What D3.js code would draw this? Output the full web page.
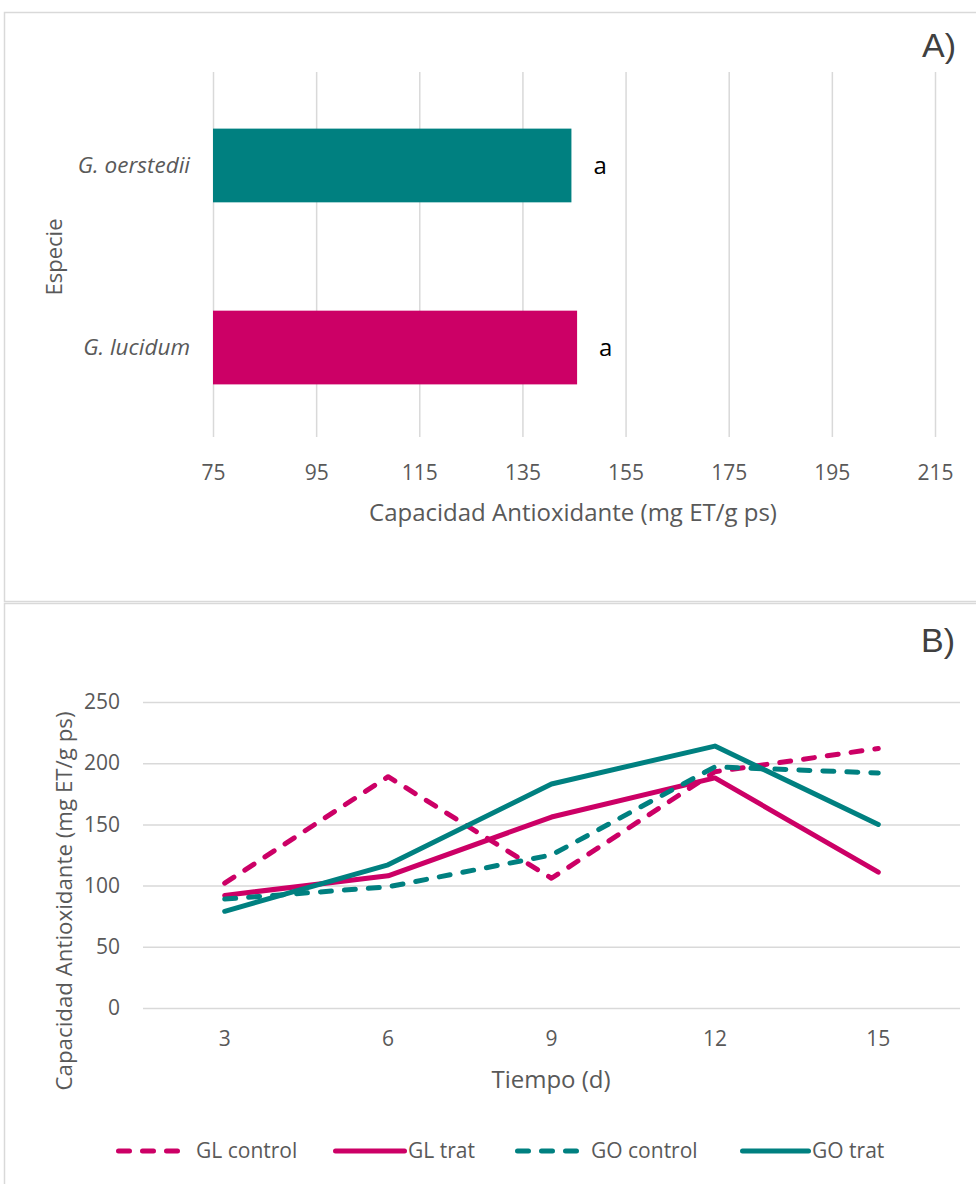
<!DOCTYPE html>
<html>
<head>
<meta charset="utf-8">
<script src="https://cdn.jsdelivr.net/npm/d3@7/dist/d3.min.js"></script>
<style>
  html, body { margin: 0; padding: 0; background: #ffffff; }
  svg { display: block; }
  text { font-family: "Open Sans", Lato, sans-serif; }
</style>
</head>
<body>
<svg id="chart" width="976" height="1184"></svg>
<script>
// Panel A: antioxidant capacity by species
const especies = ["G. oerstedii", "G. lucidum"];
const capacidad = [144.5, 145.6];
const letras = ["a", "a"];
const ticksA = [75, 95, 115, 135, 155, 175, 195, 215];

// Panel B: antioxidant capacity over time
const dias = [3, 6, 9, 12, 15];
const glControl = [102, 189, 106, 193, 212];
const glTrat = [92, 108, 156, 188, 111];
const goControl = [89, 99, 125, 197, 192];
const goTrat = [79, 117, 183, 214, 150];
const ticksB = [0, 50, 100, 150, 200, 250];

const MAGENTA = "#cc0066";
const TEAL = "#008080";
const GRID = "#d9d9d9";
const LABEL = "#595959";
const FONT = "'Open Sans', Lato, sans-serif";

const series = [
  { name: "GL control", values: glControl, color: MAGENTA, dashed: true },
  { name: "GL trat", values: glTrat, color: MAGENTA, dashed: false },
  { name: "GO control", values: goControl, color: TEAL, dashed: true },
  { name: "GO trat", values: goTrat, color: TEAL, dashed: false }
];

const svg = d3.select("#chart");

// panel frames
svg.append("rect").attr("x", 4.5).attr("y", 12.5).attr("width", 1000).attr("height", 589)
  .attr("fill", "#fff").attr("stroke", GRID).attr("stroke-width", 1.5);
svg.append("rect").attr("x", 4.5).attr("y", 603.5).attr("width", 1000).attr("height", 700)
  .attr("fill", "#fff").attr("stroke", GRID).attr("stroke-width", 1.5);

// ---------- Panel A ----------
const gA = svg.append("g");
const xA = d3.scaleLinear().domain([75, 215]).range([213, 935]);
const yA = d3.scaleBand().domain(especies).range([74, 439]).paddingInner(0.595).paddingOuter(0.3);
const plotTopA = 72, plotBotA = 437;

const axA = d3.axisBottom(xA).tickValues(ticksA).tickSize(-(plotBotA - plotTopA)).tickPadding(28);
const axAg = gA.append("g").attr("transform", `translate(0,${plotBotA})`).call(axA);
axAg.select(".domain").remove();
axAg.selectAll(".tick line").attr("stroke", GRID).attr("stroke-width", 1.5);
axAg.selectAll(".tick text").attr("fill", LABEL).attr("font-size", 21)
  .style("font-family", FONT);

gA.selectAll("rect.bar").data(especies).join("rect").attr("class", "bar")
  .attr("x", xA(75))
  .attr("y", d => yA(d))
  .attr("width", (d, i) => xA(capacidad[i]) - xA(75))
  .attr("height", yA.bandwidth())
  .attr("fill", (d, i) => i === 0 ? TEAL : MAGENTA);

gA.selectAll("text.cat").data(especies).join("text").attr("class", "cat")
  .attr("x", 190).attr("y", d => yA(d) + yA.bandwidth() / 2)
  .attr("dy", "0.35em").attr("text-anchor", "end")
  .attr("font-size", 22.5).attr("font-style", "italic").attr("fill", LABEL)
  .text(d => d);

gA.selectAll("text.letra").data(especies).join("text").attr("class", "letra")
  .attr("x", (d, i) => xA(capacidad[i]) + 22)
  .attr("y", d => yA(d) + yA.bandwidth() / 2)
  .attr("dy", "0.35em").attr("font-size", 24).attr("fill", "#000")
  .text((d, i) => letras[i]);

gA.append("text").attr("x", 573).attr("y", 521).attr("text-anchor", "middle")
  .attr("font-size", 24).attr("fill", LABEL)
  .text("Capacidad Antioxidante (mg ET/g ps)");

gA.append("text").attr("transform", "translate(62,257) rotate(-90)")
  .attr("text-anchor", "middle").attr("font-size", 22).attr("fill", LABEL)
  .text("Especie");

gA.append("text").attr("x", 922).attr("y", 57)
  .style("font-family", "'Liberation Sans', Arial, sans-serif")
  .attr("font-size", 34).attr("fill", "#404040").text("A)");

// ---------- Panel B ----------
const gB = svg.append("g");
const xB = d3.scaleBand().domain(dias).range([143, 960]);
const yB = d3.scaleLinear().domain([0, 250]).range([1008, 702]);

const axBy = d3.axisLeft(yB).tickValues(ticksB).tickSize(-(960 - 143)).tickPadding(23);
const axByg = gB.append("g").attr("transform", "translate(143,0)").call(axBy);
axByg.select(".domain").remove();
axByg.selectAll(".tick line").attr("stroke", GRID).attr("stroke-width", 1.5);
axByg.selectAll(".tick text").attr("fill", LABEL).attr("font-size", 21)
  .style("font-family", FONT);

const axBx = d3.axisBottom(xB).tickSize(0).tickPadding(23);
const axBxg = gB.append("g").attr("transform", "translate(0,1008)").call(axBx);
axBxg.select(".domain").remove();
axBxg.selectAll(".tick text").attr("fill", LABEL).attr("font-size", 21)
  .style("font-family", FONT);

const line = d3.line()
  .x((d, i) => xB(dias[i]) + xB.bandwidth() / 2)
  .y(d => yB(d));

gB.selectAll("path.serie").data(series).join("path").attr("class", "serie")
  .attr("d", d => line(d.values))
  .attr("fill", "none")
  .attr("stroke", d => d.color)
  .attr("stroke-width", 5)
  .attr("stroke-linejoin", "round")
  .attr("stroke-linecap", "round")
  .attr("stroke-dasharray", d => d.dashed ? "11,13" : null);

gB.append("text").attr("x", 551).attr("y", 1088).attr("text-anchor", "middle")
  .attr("font-size", 24).attr("fill", LABEL).text("Tiempo (d)");

gB.append("text").attr("transform", "translate(72,901) rotate(-90)")
  .attr("text-anchor", "middle").attr("font-size", 22.3).attr("fill", LABEL)
  .text("Capacidad Antioxidante (mg ET/g ps)");

gB.append("text").attr("x", 921).attr("y", 652)
  .style("font-family", "'Liberation Sans', Arial, sans-serif")
  .attr("font-size", 34).attr("fill", "#404040").text("B)");

// legend
const legendPos = [
  { x0: 118.5, x1: 179.5, tx: 196 },
  { x0: 335.5, x1: 404.5, tx: 408 },
  { x0: 517.5, x1: 578.5, tx: 591 },
  { x0: 742.5, x1: 808.5, tx: 812 }
];
const legendY = 1151;
const lg = gB.selectAll("g.leg").data(series).join("g").attr("class", "leg");
lg.append("line")
  .attr("x1", (d, i) => legendPos[i].x0).attr("x2", (d, i) => legendPos[i].x1)
  .attr("y1", legendY).attr("y2", legendY)
  .attr("stroke", d => d.color).attr("stroke-width", 5)
  .attr("stroke-linecap", "round")
  .attr("stroke-dasharray", d => d.dashed ? "11,13" : null);
lg.append("text")
  .attr("x", (d, i) => legendPos[i].tx).attr("y", legendY).attr("dy", "0.35em")
  .attr("font-size", 21).attr("fill", LABEL).text(d => d.name);
</script>
</body>
</html>
